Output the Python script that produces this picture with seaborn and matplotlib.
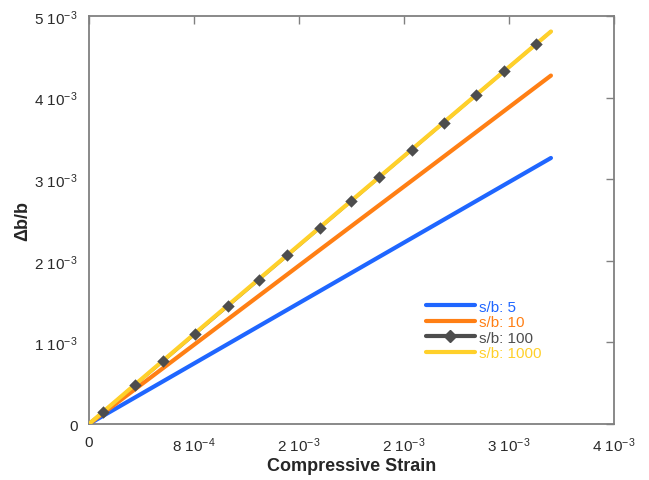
import matplotlib
matplotlib.use("Agg")
import matplotlib.pyplot as plt
from matplotlib.lines import Line2D
import seaborn as sns
import pandas as pd

# ---- data ----
strain = [0.0, 0.00088, 0.00176, 0.00264, 0.00352]
sb5 = [0.0, 0.000815, 0.00163, 0.002445, 0.00326]
sb10 = [0.0, 0.001067, 0.002135, 0.00320, 0.00427]
sb1000 = [0.0, 0.00121, 0.00241, 0.00361, 0.00481]

sb100_x = [0.000104, 0.000350, 0.000566, 0.000808, 0.001057, 0.001295, 0.001511,
           0.001760, 0.001996, 0.002212, 0.002461, 0.002702, 0.002949, 0.003162, 0.003406]
sb100_y = [0.000142, 0.000478, 0.000773, 0.001104, 0.001444, 0.001770, 0.002065,
           0.002405, 0.002728, 0.003023, 0.003363, 0.003692, 0.004030, 0.004321, 0.004654]
sb100_line_x = [0.0] + sb100_x + [0.00352]
sb100_line_y = [0.0] + sb100_y + [0.00481]

labels = ["s/b: 5", "s/b: 10", "s/b: 100", "s/b: 1000"]
colors = ["#1f66ff", "#ff7f14", "#4d4d4d", "#ffd02a"]

xticks = [0, 0.0008, 0.0016, 0.0024, 0.0032, 0.004]
xticklabels = ["0", r"8 10$^{-4}$", r"2 10$^{-3}$", r"2 10$^{-3}$", r"3 10$^{-3}$", r"4 10$^{-3}$"]
yticks = [0, 0.001, 0.002, 0.003, 0.004, 0.005]
yticklabels = ["0", r"1 10$^{-3}$", r"2 10$^{-3}$", r"3 10$^{-3}$", r"4 10$^{-3}$", r"5 10$^{-3}$"]

sns.set_style("white")
plt.rcParams["font.family"] = ["Liberation Sans", "DejaVu Sans"]
plt.rcParams["mathtext.fontset"] = "custom"
plt.rcParams["mathtext.rm"] = "Liberation Sans"
plt.rcParams["mathtext.it"] = "Liberation Sans:italic"
plt.rcParams["mathtext.bf"] = "Liberation Sans:bold"

fig = plt.figure(figsize=(6.49, 4.81), dpi=100)
ax = fig.add_axes([0.137, 0.1164, 0.809, 0.8483])

lw = 3.0
df5 = pd.DataFrame({"x": strain, "y": sb5})
df10 = pd.DataFrame({"x": strain, "y": sb10})
df1000 = pd.DataFrame({"x": strain, "y": sb1000})
df100 = pd.DataFrame({"x": sb100_line_x, "y": sb100_line_y})
dfm = pd.DataFrame({"x": sb100_x, "y": sb100_y})

sns.lineplot(data=df5, x="x", y="y", ax=ax, color=colors[0], linewidth=lw, sort=False, solid_capstyle="round", zorder=2)
sns.lineplot(data=df10, x="x", y="y", ax=ax, color=colors[1], linewidth=lw, sort=False, solid_capstyle="round", zorder=2)
sns.lineplot(data=df100, x="x", y="y", ax=ax, color=colors[2], linewidth=2.2, sort=False, solid_capstyle="round", zorder=3)
sns.lineplot(data=df1000, x="x", y="y", ax=ax, color=colors[3], linewidth=lw, sort=False, solid_capstyle="round", zorder=4)
sns.scatterplot(data=dfm, x="x", y="y", ax=ax, color=colors[2], marker="D", s=40, linewidth=0, zorder=5)

ax.set_xlim(0, 0.004)
ax.set_ylim(0, 0.005)
ax.set_xticks(xticks)
ax.set_xticklabels(xticklabels)
ax.set_yticks(yticks)
ax.set_yticklabels(yticklabels)
ax.tick_params(direction="in", length=6, width=1, color="#808080", labelsize=11,
               top=True, right=True, pad=8, labelcolor="#2a2a2a")
for s in ax.spines.values():
    s.set_color("#808080")
    s.set_linewidth(1.3)

ax.set_xlabel("Compressive Strain", fontsize=13, fontweight="bold", labelpad=2)
ax.set_ylabel("Δb/b", fontsize=13, fontweight="bold", labelpad=2)

handles = [
    Line2D([], [], color=colors[0], linewidth=lw),
    Line2D([], [], color=colors[1], linewidth=lw),
    Line2D([], [], color=colors[2], linewidth=lw, marker="D", markersize=6),
    Line2D([], [], color=colors[3], linewidth=lw),
]
leg = ax.legend(handles, labels, loc="upper left", bbox_to_anchor=(0.63, 0.32),
                frameon=False, fontsize=11, handlelength=3.2, handletextpad=0.3,
                labelspacing=0.1, borderaxespad=0)
for t, c in zip(leg.get_texts(), colors):
    t.set_color(c)

fig.savefig("out.png", dpi=100)
